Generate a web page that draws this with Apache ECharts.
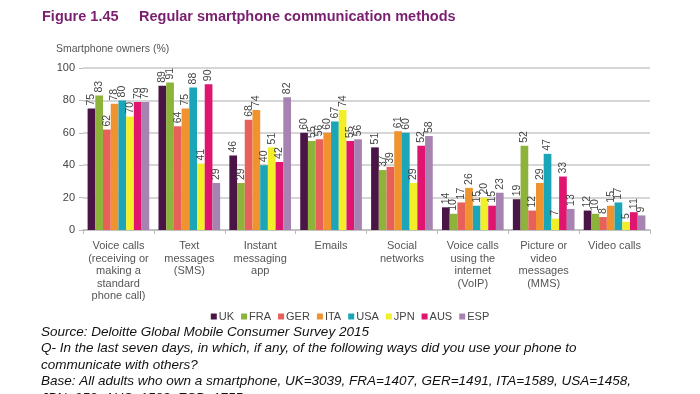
<!DOCTYPE html>
<html><head><meta charset="utf-8">
<script src="https://cdn.jsdelivr.net/npm/echarts@6/dist/echarts.min.js"></script>
<style>html,body{margin:0;padding:0;background:#fff}#c{width:700px;height:394px}</style>
</head><body><div id="c"></div>
<script>
const categories = ["Voice calls\n(receiving or\nmaking a\nstandard\nphone call)", "Text\nmessages\n(SMS)", "Instant\nmessaging\napp", "Emails", "Social\nnetworks", "Voice calls\nusing the\ninternet\n(VoIP)", "Picture or\nvideo\nmessages\n(MMS)", "Video calls"];
const countries = ["UK", "FRA", "GER", "ITA", "USA", "JPN", "AUS", "ESP"];
const colors = ["#4a1446", "#8db33a", "#e8605a", "#f0922e", "#1aa6b8", "#f2ee2a", "#e0156f", "#a783b2"];
const UK  = [75, 89, 46, 60, 51, 14, 19, 12];
const FRA = [83, 91, 29, 55, 37, 10, 52, 10];
const GER = [62, 64, 68, 56, 39, 17, 12, 8];
const ITA = [78, 75, 74, 60, 61, 26, 29, 15];
const USA = [80, 88, 40, 67, 60, 15, 47, 17];
const JPN = [70, 41, 51, 74, 29, 20, 7, 5];
const AUS = [79, 90, 42, 55, 52, 15, 33, 11];
const ESP = [79, 29, 82, 56, 58, 23, 13, 9];
const yTicks = [0, 20, 40, 60, 80, 100];
const values = [UK, FRA, GER, ITA, USA, JPN, AUS, ESP];

const chart = echarts.init(document.getElementById('c'), null, {renderer: 'canvas'});
const series = countries.map((name, i) => ({
  name: name,
  type: 'bar',
  data: values[i],
  itemStyle: {color: colors[i]},
  barGap: '0%',
  barCategoryGap: '13%',
  label: {
    show: true, position: 'top', rotate: 90, align: 'left', verticalAlign: 'middle',
    distance: 3, fontSize: 10.5, color: '#444', fontFamily: 'Liberation Sans'
  }
}));
const italic = {fontFamily: 'Liberation Sans', fontStyle: 'italic', fontSize: 13.5, fill: '#111'};
chart.setOption({
  animation: false,
  textStyle: {fontFamily: 'Liberation Sans'},
  grid: {left: 83, right: 50, top: 68, bottom: 164, containLabel: false},
  legend: {
    data: countries, top: 306, left: 'center', itemWidth: 6, itemHeight: 6, itemGap: 7,
    icon: 'rect', textStyle: {fontSize: 11, color: '#444', padding: [0, 0, 0, -3]}
  },
  xAxis: {
    type: 'category', data: categories,
    axisLine: {lineStyle: {color: '#bbb', width: 1.5}},
    axisTick: {show: true, length: 4, lineStyle: {color: '#bbb'}},
    axisLabel: {fontSize: 11, color: '#555', lineHeight: 12.5, interval: 0, margin: 10}
  },
  yAxis: {
    type: 'value', min: yTicks[0], max: yTicks[yTicks.length - 1], interval: 20,
    axisLine: {show: false},
    axisTick: {show: true, length: 4, lineStyle: {color: '#bbb'}},
    axisLabel: {fontSize: 11, color: '#444', margin: 8},
    splitLine: {lineStyle: {color: '#c8c8c8', width: 1.5}}
  },
  series: series,
  graphic: [
    {type: 'text', left: 42, top: 9, style: {text: 'Figure 1.45', font: 'bold 14.5px Liberation Sans', fill: '#7a1f6e'}},
    {type: 'text', left: 139, top: 9, style: {text: 'Regular smartphone communication methods', font: 'bold 14.5px Liberation Sans', fill: '#7a1f6e'}},
    {type: 'text', left: 56, top: 44, style: {text: 'Smartphone owners (%)', fontSize: 10.5, fontFamily: 'Liberation Sans', fill: '#555'}},
    {type: 'text', left: 41, top: 325, style: Object.assign({text: 'Source: Deloitte Global Mobile Consumer Survey 2015'}, italic)},
    {type: 'text', left: 41, top: 341.5, style: Object.assign({text: 'Q- In the last seven days, in which, if any, of the following ways did you use your phone to'}, italic)},
    {type: 'text', left: 41, top: 358, style: Object.assign({text: 'communicate with others?'}, italic)},
    {type: 'text', left: 41, top: 374.5, style: Object.assign({text: 'Base: All adults who own a smartphone, UK=3039, FRA=1407, GER=1491, ITA=1589, USA=1458,'}, italic)},
    {type: 'text', left: 41, top: 391, style: Object.assign({text: 'JPN=952, AUS=1582, ESP=1755'}, italic)}
  ]
});
</script></body></html>
